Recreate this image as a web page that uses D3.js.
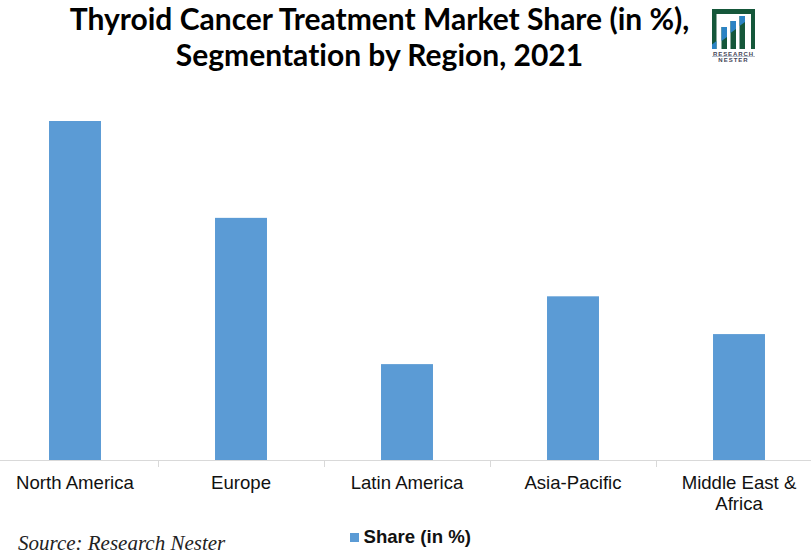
<!DOCTYPE html>
<html>
<head>
<meta charset="utf-8">
<script src="https://cdnjs.cloudflare.com/ajax/libs/d3/7.8.5/d3.min.js"></script>
<style>
html, body { margin: 0; padding: 0; background: #fff; }
svg { display: block; }
</style>
</head>
<body>
<svg id="chart" width="811" height="560"></svg>
<script>
const regions = ["North America", "Europe", "Latin America", "Asia-Pacific", "Middle East & Africa"]
const shares = [35, 25, 9.9, 16.9, 13]
const seriesName = "Share (in %)"
const titleLines = ["Thyroid Cancer Treatment Market Share (in %),", "Segmentation by Region, 2021"]
const sourceText = "Source: Research Nester"

const sans = "Arial, 'Liberation Sans', sans-serif"
const svg = d3.select("#chart")

const x = d3.scaleBand().domain(regions).range([-8, 822]).paddingInner(0.687).paddingOuter(0.3435)
const y = d3.scaleLinear().domain([0, 35]).range([460, 121])

// title
svg.append("g").selectAll("text").data(titleLines).join("text")
	.attr("x", 379.5).attr("y", (d, i) => 30 + i * 36)
	.attr("text-anchor", "middle")
	.style("font", "bold 30px Lato, Roboto, sans-serif")
	.style("font-variant-ligatures", "none")
	.attr("fill", "#000")
	.text(d => d)

// bars
svg.append("g").selectAll("rect").data(regions).join("rect")
	.attr("x", d => x(d))
	.attr("y", (d, i) => y(shares[i]))
	.attr("width", x.bandwidth())
	.attr("height", (d, i) => y(0) - y(shares[i]))
	.attr("fill", "#5b9bd5")

// x axis: ticks sit between the categories, so they are drawn apart from the labels
const step = x.step()
const axis = svg.append("g")
axis.append("line").attr("x1", 0).attr("x2", 811).attr("y1", 460.5).attr("y2", 460.5)
	.attr("stroke", "#d9d9d9").attr("stroke-width", 1)
axis.selectAll("line.tick").data(regions.slice(1)).join("line")
	.attr("class", "tick")
	.attr("x1", d => Math.round(x(d) + x.bandwidth() / 2 - step / 2) + 0.5)
	.attr("x2", d => Math.round(x(d) + x.bandwidth() / 2 - step / 2) + 0.5)
	.attr("y1", 460).attr("y2", 467)
	.attr("stroke", "#d9d9d9")

const labels = axis.selectAll("text").data(regions).join("text")
	.attr("text-anchor", "middle")
	.style("font", "18.6px " + sans)
	.attr("fill", "#111")
labels.each(function (d) {
	const lines = d === "Middle East & Africa" ? ["Middle East &", "Africa"] : [d]
	d3.select(this).selectAll("tspan").data(lines).join("tspan")
		.attr("x", x(d) + x.bandwidth() / 2)
		.attr("y", (l, i) => 489 + i * 21)
		.text(l => l)
})

// legend
svg.append("rect").attr("x", 350).attr("y", 533).attr("width", 9).attr("height", 9).attr("fill", "#5b9bd5")
svg.append("text").attr("x", 363.5).attr("y", 543)
	.style("font", "bold 18.6px " + sans).attr("fill", "#111").text(seriesName)

// source
svg.append("text").attr("x", 18).attr("y", 550)
	.style("font", "italic 21px 'Liberation Serif', 'DejaVu Serif', serif")
	.attr("fill", "#222").text(sourceText)

// logo
const logo = svg.append("g")
const green = "#15573a", blue = "#2b83c4"
logo.append("path").attr("fill", green)
	.attr("d", "M712 9H755V49H751V14H716.5V49H712Z")
logo.append("path").attr("fill", blue).attr("d", "M712 49V44.5L716.5 41V49Z")
const logoBars = [[721.5, 27, 41], [730.5, 21, 33], [739.5, 16, 26]]
logo.selectAll("rect").data(logoBars).join("rect")
	.attr("x", d => d[0]).attr("y", d => d[1]).attr("width", 5.5).attr("height", d => 49 - d[1]).attr("fill", green)
logo.selectAll("path.sh").data(logoBars).join("path").attr("class", "sh")
	.attr("fill", blue)
	.attr("d", d => `M${d[0]} ${d[1]}h5.5V${d[2] - 4}L${d[0]} ${d[2]}z`)
logo.append("line").attr("x1", 712).attr("x2", 755).attr("y1", 56.5).attr("y2", 56.5).attr("stroke", "#b4bdca")
logo.append("text").attr("x", 733.5).attr("y", 55.8).attr("text-anchor", "middle")
	.style("font", "bold 6px " + sans).attr("fill", "#445").attr("letter-spacing", 0.9).text("RESEARCH")
logo.append("text").attr("x", 733.5).attr("y", 62).attr("text-anchor", "middle")
	.style("font", "bold 6px " + sans).attr("fill", "#445").attr("letter-spacing", 1).text("NESTER")
</script>
</body>
</html>
